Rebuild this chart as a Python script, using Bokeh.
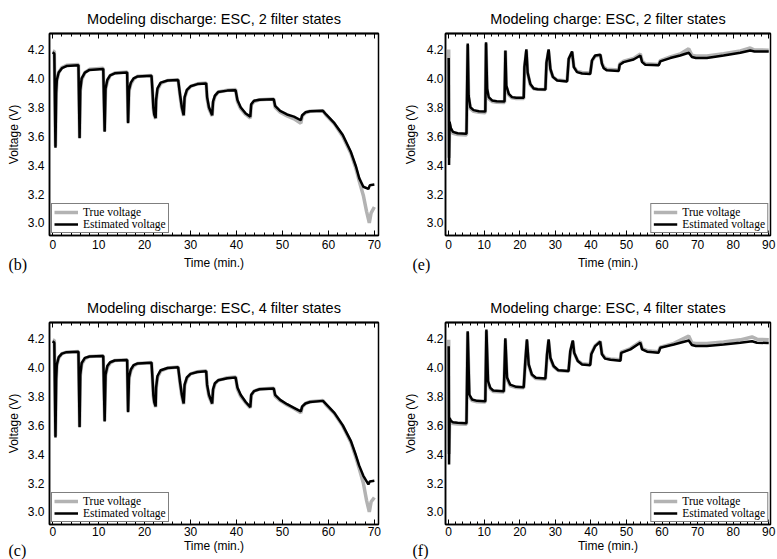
from bokeh.plotting import figure
from bokeh.layouts import gridplot
from bokeh.models import Range1d, LinearAxis, FixedTicker, PrintfTickFormatter, Title
from bokeh.embed import file_html
from bokeh.resources import INLINE

# ---------------- data ----------------
titles = ["Modeling discharge: ESC, 2 filter states",
          "Modeling charge: ESC, 2 filter states",
          "Modeling discharge: ESC, 4 filter states",
          "Modeling charge: ESC, 4 filter states"]
panel_tags = ["(b)", "(e)", "(c)", "(f)"]
series_names = ["True voltage", "Estimated voltage"]
y_ticks = [3.0, 3.2, 3.4, 3.6, 3.8, 4.0, 4.2]
x_ticks_discharge = [0, 10, 20, 30, 40, 50, 60, 70]
x_ticks_charge = [0, 10, 20, 30, 40, 50, 60, 70, 80, 90]

# discharge, 2 filter states (b)
t_b_est = [0.0, 0.35, 0.6, 0.75, 0.9, 1.3, 2.0, 3.0, 5.6,
           5.85, 6.0, 6.3, 7.0, 8.0, 11.0,
           11.3, 11.5, 11.9, 12.5, 13.5, 16.2,
           16.4, 16.6, 17.0, 17.6, 18.5, 21.5,
           21.7, 21.9, 22.1, 22.4,
           22.5, 22.8, 23.5, 25.0, 27.3,
           27.7, 28.1, 28.5,
           28.7, 29.2, 30.0, 31.5, 33.4,
           33.6, 34.0, 34.7,
           34.9, 35.3, 36.0, 38.0, 39.8,
           40.2, 40.9, 42.0, 43.0,
           43.2, 43.8, 45.0, 48.1,
           48.4, 49.5, 51.0, 52.5, 54.0,
           54.3, 55.0, 56.0, 58.8,
           59.5, 61.3, 63.1, 64.9, 66.0, 66.7, 67.6, 68.7, 69.0, 70.0]
v_b_est = [4.18, 4.17, 3.52, 3.90, 3.99, 4.04, 4.07, 4.085, 4.09,
           3.585, 3.92, 4.0, 4.04, 4.058, 4.065,
           3.63, 3.93, 3.99, 4.02, 4.035, 4.04,
           3.69, 3.92, 3.97, 4.0, 4.013, 4.018,
           3.92, 3.80, 3.75, 3.725,
           3.85, 3.93, 3.97, 3.985, 3.988,
           3.89, 3.80, 3.745,
           3.87, 3.92, 3.945, 3.96, 3.965,
           3.87, 3.80, 3.745,
           3.84, 3.88, 3.905, 3.915, 3.918,
           3.85, 3.80, 3.757, 3.735,
           3.82, 3.845, 3.852, 3.855,
           3.81, 3.775, 3.75, 3.735, 3.71,
           3.745, 3.765, 3.772, 3.775,
           3.75, 3.69, 3.61, 3.49, 3.39, 3.31, 3.25, 3.235, 3.26, 3.265]
t_b_true = [0.0, 0.35, 0.6, 0.75, 0.9, 1.3, 2.0, 3.0, 5.6,
            5.85, 6.0, 6.3, 7.0, 8.0, 11.0,
            11.3, 11.5, 11.9, 12.5, 13.5, 16.2,
            16.4, 16.6, 17.0, 17.6, 18.5, 21.5,
            21.7, 21.9, 22.1, 22.4,
            22.5, 22.8, 23.5, 25.0, 27.3,
            27.7, 28.1, 28.5,
            28.7, 29.2, 30.0, 31.5, 33.4,
            33.6, 34.0, 34.7,
            34.9, 35.3, 36.0, 38.0, 39.8,
            40.2, 40.9, 42.0, 43.0,
            43.2, 43.8, 45.0, 48.1,
            48.4, 49.5, 51.0, 52.5, 54.0,
            54.3, 55.0, 56.0, 58.8,
            59.5, 61.3, 63.1, 64.9, 66.0, 66.7, 67.6, 68.3, 68.9, 69.3, 70.0]
v_b_true = [4.19, 4.185, 3.53, 3.88, 3.98, 4.04, 4.075, 4.09, 4.095,
            3.59, 3.91, 3.99, 4.04, 4.062, 4.07,
            3.635, 3.92, 3.98, 4.02, 4.037, 4.043,
            3.695, 3.91, 3.96, 3.995, 4.015, 4.02,
            3.91, 3.79, 3.745, 3.72,
            3.84, 3.92, 3.965, 3.985, 3.99,
            3.88, 3.79, 3.74,
            3.86, 3.915, 3.945, 3.962, 3.968,
            3.86, 3.79, 3.74,
            3.83, 3.875, 3.905, 3.918, 3.922,
            3.84, 3.79, 3.75, 3.725,
            3.815, 3.84, 3.852, 3.857,
            3.80, 3.765, 3.74, 3.72, 3.69,
            3.74, 3.762, 3.772, 3.776,
            3.745, 3.685, 3.60, 3.48, 3.375, 3.29, 3.19, 3.08, 3.0, 3.07, 3.11]

# charge, 2 filter states (e)
t_e_est = [0.0, 0.1, 0.25, 0.6, 1.2, 2.5, 5.0,
           5.35, 5.6, 6.1, 7.0, 8.5, 10.3,
           10.5, 10.8, 11.25, 12.2, 13.5, 15.7,
           15.95, 16.2, 16.9, 17.8, 19.0, 21.1,
           21.3, 21.85, 22.2, 22.96, 23.9, 25.0, 27.2,
           27.5, 28.1, 28.6, 29.3, 30.5, 33.3,
           33.75, 34.7, 35.2, 36.1, 37.5, 39.8,
           40.3, 41.2, 42.65, 43.1, 43.6, 44.5, 47.8,
           48.1, 49.2, 52.0, 53.9, 54.4, 55.3, 59.05,
           59.5, 62.3, 65.1, 67.5, 68.4, 69.5, 72.6,
           77.3, 82.0, 84.8, 86.0, 90.0]
v_e_est = [4.14, 3.40, 3.70, 3.655, 3.63, 3.62, 3.616,
           4.24, 3.88, 3.80, 3.78, 3.772, 3.77,
           4.25, 3.93, 3.87, 3.847, 3.842, 3.84,
           4.193, 3.95, 3.893, 3.87, 3.866, 3.865,
           4.08, 4.20, 4.04, 3.96, 3.93, 3.925, 3.923,
           4.11, 4.20, 4.066, 4.01, 3.985, 3.978,
           4.135, 4.186, 4.078, 4.043, 4.033, 4.03,
           4.124, 4.158, 4.163, 4.10, 4.07, 4.055, 4.05,
           4.094, 4.112, 4.13, 4.158, 4.112, 4.094, 4.09,
           4.117, 4.14, 4.158, 4.177, 4.147, 4.14, 4.14,
           4.158, 4.177, 4.193, 4.186, 4.186]
t_e_true = [0.0, 0.1, 0.25, 0.6, 1.2, 2.5, 5.0,
            5.35, 5.6, 6.1, 7.0, 8.5, 10.3,
            10.5, 10.8, 11.25, 12.2, 13.5, 15.7,
            15.95, 16.2, 16.9, 17.8, 19.0, 21.1,
            21.3, 21.85, 22.2, 22.96, 23.9, 25.0, 27.2,
            27.5, 28.1, 28.6, 29.3, 30.5, 33.3,
            33.75, 34.7, 35.2, 36.1, 37.5, 39.8,
            40.3, 41.2, 42.65, 43.1, 43.6, 44.5, 47.8,
            48.1, 49.2, 52.0, 53.9, 54.4, 55.3, 59.05,
            59.5, 62.3, 65.1, 67.5, 68.4, 69.5, 72.6,
            77.3, 82.0, 84.8, 86.0, 90.0]
v_e_true = [4.20, 3.45, 3.68, 3.645, 3.62, 3.612, 3.608,
            4.23, 3.87, 3.79, 3.772, 3.765, 3.762,
            4.24, 3.92, 3.86, 3.84, 3.835, 3.833,
            4.19, 3.94, 3.885, 3.865, 3.86, 3.86,
            4.07, 4.19, 4.035, 3.955, 3.928, 3.924, 3.922,
            4.10, 4.19, 4.06, 4.01, 3.988, 3.982,
            4.13, 4.18, 4.08, 4.048, 4.04, 4.036,
            4.12, 4.155, 4.16, 4.105, 4.078, 4.062, 4.058,
            4.10, 4.118, 4.138, 4.168, 4.12, 4.10, 4.096,
            4.122, 4.148, 4.168, 4.205, 4.16, 4.155, 4.155,
            4.17, 4.19, 4.21, 4.196, 4.195]

# discharge, 4 filter states (c)
t_c_est = [0.0, 0.35, 0.6, 0.75, 0.9, 1.3, 2.0, 3.0, 5.6,
           5.85, 6.0, 6.3, 7.0, 8.0, 11.0,
           11.3, 11.5, 11.9, 12.5, 13.5, 16.2,
           16.4, 16.6, 17.0, 17.6, 18.5, 21.5,
           21.7, 21.9, 22.1, 22.4,
           22.5, 22.8, 23.5, 25.0, 27.3,
           27.7, 28.1, 28.5,
           28.7, 29.2, 30.0, 31.5, 33.4,
           33.6, 34.0, 34.7,
           34.9, 35.3, 36.0, 38.0, 39.8,
           40.2, 40.9, 42.0, 43.0,
           43.2, 43.8, 45.0, 48.1,
           48.4, 49.5, 51.0, 52.5, 54.0,
           54.3, 55.0, 56.0, 58.8,
           59.5, 61.3, 63.1, 64.9, 66.0, 66.7, 67.6, 68.7, 69.0, 70.0]
v_c_est = [4.18, 4.17, 3.515, 3.92, 4.02, 4.07, 4.095, 4.105, 4.108,
           3.585, 3.95, 4.03, 4.065, 4.075, 4.078,
           3.625, 3.95, 4.01, 4.035, 4.047, 4.05,
           3.69, 3.93, 3.985, 4.015, 4.027, 4.032,
           3.93, 3.81, 3.76, 3.73,
           3.86, 3.94, 3.98, 3.995, 4.0,
           3.90, 3.81, 3.75,
           3.88, 3.93, 3.955, 3.968, 3.973,
           3.88, 3.81, 3.75,
           3.85, 3.89, 3.91, 3.925, 3.93,
           3.86, 3.81, 3.76, 3.725,
           3.81, 3.835, 3.848, 3.853,
           3.81, 3.775, 3.745, 3.72, 3.695,
           3.73, 3.75, 3.76, 3.768,
           3.745, 3.685, 3.60, 3.49, 3.39, 3.32, 3.25, 3.19, 3.21, 3.215]
t_c_true = [0.0, 0.35, 0.6, 0.75, 0.9, 1.3, 2.0, 3.0, 5.6,
            5.85, 6.0, 6.3, 7.0, 8.0, 11.0,
            11.3, 11.5, 11.9, 12.5, 13.5, 16.2,
            16.4, 16.6, 17.0, 17.6, 18.5, 21.5,
            21.7, 21.9, 22.1, 22.4,
            22.5, 22.8, 23.5, 25.0, 27.3,
            27.7, 28.1, 28.5,
            28.7, 29.2, 30.0, 31.5, 33.4,
            33.6, 34.0, 34.7,
            34.9, 35.3, 36.0, 38.0, 39.8,
            40.2, 40.9, 42.0, 43.0,
            43.2, 43.8, 45.0, 48.1,
            48.4, 49.5, 51.0, 52.5, 54.0,
            54.3, 55.0, 56.0, 58.8,
            59.5, 61.3, 63.1, 64.9, 66.0, 66.7, 67.6, 68.3, 68.9, 69.3, 70.0]
v_c_true = [4.19, 4.185, 3.525, 3.90, 4.01, 4.065, 4.095, 4.105, 4.11,
            3.59, 3.94, 4.02, 4.06, 4.075, 4.08,
            3.63, 3.94, 4.0, 4.03, 4.047, 4.052,
            3.695, 3.92, 3.975, 4.01, 4.027, 4.034,
            3.92, 3.80, 3.755, 3.725,
            3.85, 3.93, 3.975, 3.995, 4.002,
            3.89, 3.80, 3.745,
            3.87, 3.925, 3.955, 3.97, 3.976,
            3.87, 3.80, 3.745,
            3.84, 3.885, 3.91, 3.928, 3.934,
            3.85, 3.80, 3.755, 3.72,
            3.805, 3.835, 3.85, 3.856,
            3.80, 3.77, 3.74, 3.715, 3.685,
            3.725, 3.75, 3.762, 3.77,
            3.74, 3.68, 3.595, 3.48, 3.375, 3.30, 3.20, 3.08, 3.0, 3.07, 3.10]

# charge, 4 filter states (f)
t_f_est = [0.0, 0.1, 0.25, 0.6, 1.2, 2.5, 5.0,
           5.34, 5.8, 6.56, 8.0, 10.3,
           10.6, 11.06, 11.7, 12.5, 15.5,
           15.93, 16.4, 17.3, 19.0, 21.1,
           21.55, 22.0, 22.5, 23.4, 24.5, 27.2,
           27.65, 28.1, 28.6, 29.5, 30.8, 33.7,
           34.2, 34.9, 35.3, 36.3, 37.5, 39.8,
           40.1, 41.2, 42.6, 43.1, 44.0, 45.5, 48.3,
           48.5, 51.1, 53.9, 54.4, 55.8, 59.0,
           59.5, 63.3, 67.5, 68.4, 69.5, 72.6,
           77.3, 82.0, 85.3, 86.7, 90.0]
v_f_est = [4.145, 3.328, 3.65, 3.63, 3.62, 3.616, 3.614,
           4.25, 3.812, 3.778, 3.768, 3.766,
           4.262, 3.905, 3.858, 3.84, 3.835,
           4.20, 3.93, 3.88, 3.865, 3.863,
           4.043, 4.193, 4.02, 3.95, 3.928, 3.923,
           4.089, 4.193, 4.066, 4.009, 3.98, 3.974,
           4.112, 4.186, 4.10, 4.043, 4.02, 4.015,
           4.09, 4.147, 4.177, 4.09, 4.06, 4.052, 4.045,
           4.10, 4.124, 4.17, 4.124, 4.108, 4.10,
           4.135, 4.158, 4.186, 4.154, 4.147, 4.147,
           4.158, 4.17, 4.18, 4.17, 4.168]
t_f_true = [0.0, 0.1, 0.25, 0.6, 1.2, 2.5, 5.0,
            5.34, 5.8, 6.56, 8.0, 10.3,
            10.6, 11.06, 11.7, 12.5, 15.5,
            15.93, 16.4, 17.3, 19.0, 21.1,
            21.55, 22.0, 22.5, 23.4, 24.5, 27.2,
            27.65, 28.1, 28.6, 29.5, 30.8, 33.7,
            34.2, 34.9, 35.3, 36.3, 37.5, 39.8,
            40.1, 41.2, 42.6, 43.1, 44.0, 45.5, 48.3,
            48.5, 51.1, 53.9, 54.4, 55.8, 59.0,
            59.5, 63.3, 67.5, 68.4, 69.5, 72.6,
            77.3, 82.0, 85.3, 86.7, 90.0]
v_f_true = [4.19, 3.40, 3.64, 3.622, 3.612, 3.608, 3.606,
            4.24, 3.80, 3.77, 3.762, 3.76,
            4.25, 3.895, 3.85, 3.833, 3.83,
            4.19, 3.92, 3.872, 3.86, 3.858,
            4.035, 4.185, 4.015, 3.945, 3.922, 3.918,
            4.08, 4.185, 4.06, 4.005, 3.978, 3.972,
            4.105, 4.18, 4.098, 4.045, 4.025, 4.02,
            4.095, 4.15, 4.18, 4.095, 4.065, 4.057, 4.052,
            4.105, 4.13, 4.178, 4.13, 4.115, 4.108,
            4.14, 4.166, 4.216, 4.168, 4.165, 4.165,
            4.175, 4.19, 4.21, 4.195, 4.19]

# ---------------- drawing ----------------
SANS = "Liberation Sans"
SERIF = "Liberation Serif"
GRAY = "#b3b3b3"
HAS_LH = "text_line_height" in Title.properties()


def tick_only_axis(minor, length):
    # label-less axis: positions only as minor ticks, so no tick labels are drawn
    return LinearAxis(ticker=FixedTicker(ticks=[], minor_ticks=minor),
                      major_label_standoff=0, major_tick_in=0, major_tick_out=0,
                      minor_tick_in=length, minor_tick_out=0,
                      axis_line_color="black", axis_line_width=1.5,
                      minor_tick_line_color="black", minor_tick_line_width=1)


def make_panel(title, tag, t_true, v_true, t_est, v_est, xticks, xr, fw,
               borders, legend_loc, tag_offset, ylab, xlab, tag_fit):
    ml, mr, mt, mb = borders
    p = figure(frame_width=fw, frame_height=202,
               min_border_left=ml, min_border_right=mr,
               min_border_top=mt, min_border_bottom=mb,
               x_range=Range1d(*xr), y_range=Range1d(2.913, 4.31),
               output_backend="svg", toolbar_location=None, tools="",
               title=title)
    p.background_fill_color = "white"
    p.border_fill_color = "white"
    p.grid.visible = False
    p.outline_line_color = "black"
    p.outline_line_width = 1.5

    p.title.align = "center"
    p.title.text_font = SANS
    p.title.text_font_size = "14.5px"
    p.title.text_font_style = "normal"
    p.title.text_color = "black"
    p.title.standoff = 13

    minor = list(range(xticks[0], xticks[-1] + 1, 2))
    xa = p.xaxis[0]
    xa.ticker = FixedTicker(ticks=xticks, minor_ticks=minor)
    xa.axis_label = "Time (min.)"
    ya = p.yaxis[0]
    ya.ticker = FixedTicker(ticks=y_ticks)
    ya.formatter = PrintfTickFormatter(format="%.1f")
    ya.axis_label = "Voltage (V)"
    for ax in (xa, ya):
        ax.axis_line_color = "black"
        ax.axis_line_width = 1.5
        ax.major_label_text_font = SANS
        ax.major_label_text_font_size = "12px"
        ax.major_label_text_color = "black"
        ax.axis_label_text_font = SANS
        ax.axis_label_text_font_size = "12px"
        ax.axis_label_text_font_style = "normal"
        ax.axis_label_text_color = "black"
        ax.major_tick_out = 0
        ax.minor_tick_out = 0
        ax.major_tick_line_color = "black"
        ax.minor_tick_line_color = "black"
    xa.major_tick_in = 5
    xa.minor_tick_in = 3
    xa.major_label_standoff = xlab[0]
    xa.axis_label_standoff = xlab[1]
    ya.major_tick_in = 0
    ya.minor_tick_in = 0
    ya.major_label_standoff = ylab[0]
    ya.axis_label_standoff = ylab[1]

    p.add_layout(tick_only_axis(minor, 3), "above")
    p.add_layout(tick_only_axis(xticks, 5), "above")

    p.line(t_true, v_true, line_color=GRAY, line_width=3.5, legend_label=series_names[0])
    p.line(t_est, v_est, line_color="black", line_width=2.5, legend_label=series_names[1])

    lg = p.legend[0]
    lg.location = legend_loc
    lg.label_text_font = SERIF
    lg.label_text_font_size = "11.5px"
    lg.label_text_color = "black"
    lg.border_line_color = "black"
    lg.border_line_width = 1.5
    lg.background_fill_color = "white"
    lg.background_fill_alpha = 1.0
    lg.padding = 2
    lg.spacing = 0
    lg.margin = 2
    lg.glyph_width = 24
    lg.glyph_height = 12
    lg.label_height = 12
    lg.label_standoff = 5

    standoff, line_h = tag_fit
    kw = dict(text=tag + "\n", align="left", offset=tag_offset, standoff=standoff,
              vertical_align="top", text_font=SERIF, text_font_size="16px",
              text_font_style="normal", text_color="black")
    if HAS_LH:
        kw["text_line_height"] = line_h
    p.add_layout(Title(**kw), "below")
    return p


p_b = make_panel(titles[0], panel_tags[0], t_b_true, v_b_true, t_b_est, v_b_est,
                 x_ticks_discharge, (-0.7, 70.9), 329, (49, 11, 33, 45),
                 "bottom_left", -41, (5, 4), (4, 4), (-33, 1.0))
p_e = make_panel(titles[1], panel_tags[1], t_e_true, v_e_true, t_e_est, v_e_est,
                 x_ticks_charge, (-0.9, 90.5), 325, (56, 7, 33, 45),
                 "bottom_right", -33, (2, 6), (4, 4), (-33, 1.0))
p_c = make_panel(titles[2], panel_tags[2], t_c_true, v_c_true, t_c_est, v_c_est,
                 x_ticks_discharge, (-0.7, 70.9), 329, (49, 11, 42, 35),
                 "bottom_left", -41, (5, 4), (2, 0), (-27, 0.6))
p_f = make_panel(titles[3], panel_tags[3], t_f_true, v_f_true, t_f_est, v_f_est,
                 x_ticks_charge, (-0.9, 90.5), 325, (56, 7, 42, 35),
                 "bottom_right", -33, (2, 6), (2, 0), (-27, 0.6))

layout = gridplot([[p_b, p_e], [p_c, p_f]], toolbar_location=None)

open("out.html", "w").write(file_html(layout, INLINE))
